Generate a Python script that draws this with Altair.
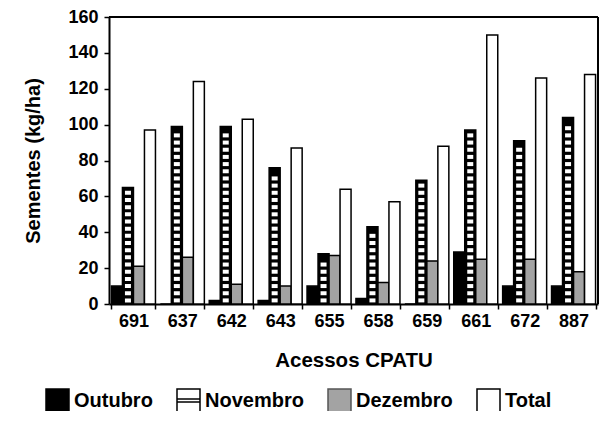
import altair as alt
import pandas as pd
import numpy as np

accs = ["691", "637", "642", "643", "655", "658", "659", "661", "672", "887"]
months = ["Outubro", "Novembro", "Dezembro", "Total"]
outubro = [10, 0, 2, 2, 10, 3, 0, 29, 10, 10]
novembro = [65, 99, 99, 76, 28, 43, 69, 97, 91, 104]
dezembro = [21, 26, 11, 10, 27, 12, 24, 25, 25, 18]
total = [97, 124, 103, 87, 64, 57, 88, 150, 126, 128]

rows = []
for i, a in enumerate(accs):
    for m, vals in zip(months, [outubro, novembro, dezembro, total]):
        rows.append({"acc": a, "month": m, "value": vals[i]})
df = pd.DataFrame(rows)

# white squares pattern inside the Novembro bars
prow = []
for a, v in zip(accs, novembro):
    for y in np.arange(2, v - 2.5, 4.0):
        prow.append({"acc": a, "month": "Novembro", "value": float(y)})
pdf = pd.DataFrame(prow)

FONT = "Liberation Sans"
nov_path = "M-1,-1H1V1H-1Z M-1,-0.12H1 M-1,0.12H1"

x_enc = alt.X("acc:N", sort=accs, scale=alt.Scale(domain=accs, paddingInner=0.1, paddingOuter=0.05),
              axis=alt.Axis(title="Acessos CPATU", labelAngle=0, tickBand="extent", tickSize=5,
                            labelPadding=3, titlePadding=20, titleFontSize=20.5))
xo_enc = alt.XOffset("month:N", sort=months, scale=alt.Scale(domain=months, paddingInner=0, paddingOuter=0))
y_scale = alt.Scale(domain=[0, 160], nice=False)
y_axis = alt.Axis(title="Sementes (kg/ha)", values=list(range(0, 161, 20)), tickSize=5,
                  labelPadding=6, titlePadding=24, grid=False, titleFontSize=20)
y_enc = alt.Y("value:Q", scale=y_scale, axis=y_axis)

leg = alt.Legend(title=None, orient="none", direction="horizontal", legendX=-64, legendY=371,
                 symbolStrokeColor="black", symbolStrokeWidth=1.5)

# small points hidden inside the bars that carry the legend
legend_layer = alt.Chart(df).transform_filter("datum.value >= 8").mark_point(
    filled=True, size=9, strokeWidth=1.5, yOffset=8
).encode(
    x=x_enc, xOffset=xo_enc, y=y_enc,
    fill=alt.Fill("month:N", sort=months,
                  scale=alt.Scale(domain=months, range=["black", "white", "#a3a3a3", "white"]),
                  legend=leg),
    stroke=alt.Stroke("month:N", sort=months,
                      scale=alt.Scale(domain=months, range=["black", "black", "#555555", "black"]),
                      legend=leg),
    shape=alt.Shape("month:N", sort=months,
                    scale=alt.Scale(domain=months, range=["square", nov_path, "square", "square"]),
                    legend=leg),
)

bars = alt.Chart(df).mark_bar(stroke="black", strokeWidth=1.5).encode(
    x=x_enc, xOffset=xo_enc, y=y_enc,
    color=alt.Color("month:N", sort=months,
                    scale=alt.Scale(domain=months, range=["black", "black", "#a3a3a3", "white"]),
                    legend=None),
)

pattern = alt.Chart(pdf).mark_tick(color="white", thickness=4, size=6, opacity=1).encode(
    x=x_enc, xOffset=xo_enc, y=y_enc,
)

top_frame = alt.Chart(df).mark_rule(color="black", strokeWidth=2).encode(
    y=alt.value(0), x=alt.value(0), x2=alt.value("width"))
right_frame = alt.Chart(df).mark_rule(color="black", strokeWidth=2).encode(
    x=alt.value("width"), y=alt.value(0), y2=alt.value("height"))

chart = alt.layer(legend_layer, bars, pattern, top_frame, right_frame).properties(
    width=489, height=287,
    autosize=alt.AutoSizeParams(type="none"),
    padding={"left": 101, "top": 9, "right": 2, "bottom": 107},
).configure_view(stroke=None).configure_axis(
    domainColor="black", domainWidth=2, tickColor="black", tickWidth=1.5,
    labelFont=FONT, titleFont=FONT, labelFontSize=18,
    labelFontWeight="bold", titleFontWeight="bold", labelColor="black", titleColor="black",
).configure_legend(
    labelFont=FONT, labelFontSize=20, labelFontWeight="bold", labelColor="black",
    symbolSize=529, symbolStrokeColor="black", symbolStrokeWidth=1.5, symbolOpacity=1,
    columnPadding=21, labelOffset=4,
)

chart.save("out.html", embed_options={"renderer": "svg", "actions": False})
